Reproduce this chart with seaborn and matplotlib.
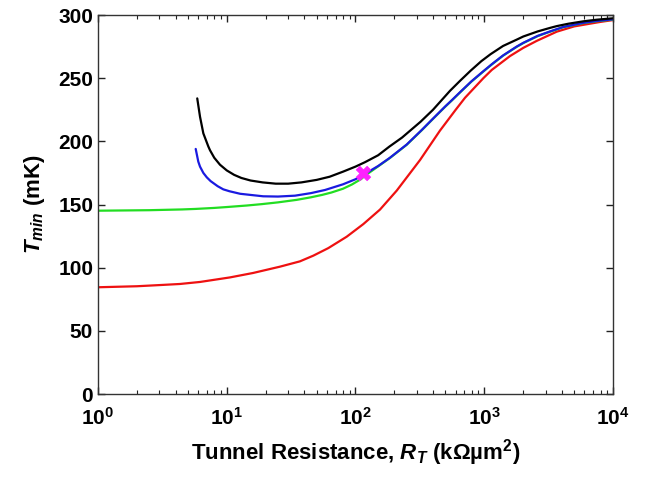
import matplotlib
matplotlib.use("Agg")
import matplotlib.pyplot as plt
import seaborn as sns
import pandas as pd
from matplotlib.ticker import LogLocator, FixedLocator, NullFormatter

# ---- data ----
red_x = [1, 2, 3.1, 4.33, 6.2, 10.6, 16, 25.9, 37, 47, 61.5, 85.4, 115, 155, 209, 317, 453,
         600, 709, 984, 1143, 1585, 2011, 2553, 3655, 5000, 7940, 10000]
red_y = [84.5, 85.3, 86.3, 87.1, 88.7, 92.3, 95.8, 100.8, 105, 109.5, 115.5, 124.5, 134.5, 146,
         161, 185.2, 208.5, 225, 234.5, 250, 256.5, 267.5, 274, 279.5, 286.8, 291, 294.5, 296]

green_x = [1, 2.5, 4.5, 5.7, 8, 10, 14.3, 18.7, 25, 35, 45, 55, 65, 80, 93.6, 110, 118.5, 150,
           185, 250, 327, 400, 496, 559, 650, 795, 984, 1143, 1400, 1786, 2011, 2600, 3243,
           4100, 5878, 7500, 10000]
green_y = [145.1, 145.5, 146.1, 146.5, 147.3, 148, 149.2, 150.3, 151.7, 153.7, 155.7, 157.6,
           159.5, 162.5, 165.8, 170, 172.8, 180.2, 186.8, 197.3, 208.8, 217.8, 227.3, 232.3,
           238.8, 247.3, 255.3, 260.8, 267.8, 274.8, 277.8, 283.3, 286.8, 290.3, 293.6, 295.1,
           296.4]

blue_x = [5.74, 6.01, 6.2, 6.58, 7.0, 7.5, 8.5, 9.4, 10.5, 12.7, 15.6, 19.2, 25, 33.9, 45, 58,
          80, 100, 118.5, 150, 185, 250, 327, 400, 496, 559, 650, 795, 984, 1143, 1400, 1786,
          2011, 2600, 3243, 4100, 5878, 7500, 10000]
blue_y = [194, 184, 180, 175, 171.5, 168.5, 164.5, 162, 160.5, 158.5, 157.5, 156.5, 156.3, 157,
          159, 161.5, 166, 170, 174.3, 180.5, 187, 197.5, 209, 218, 227.5, 232.5, 239, 247.5,
          255.5, 261, 268, 275, 278, 283.5, 287, 290.5, 293.8, 295.3, 296.6]

black_x = [5.9, 6.2, 6.58, 7.19, 7.41, 8.0, 8.86, 10, 11.4, 13, 15.3, 19, 24, 30, 38, 50, 63, 80,
           100, 118.5, 150, 183, 230, 320, 400, 480, 542, 650, 785, 950, 1120, 1400, 1786, 2011,
           2600, 3243, 3655, 4500, 5878, 7500, 10000]
black_y = [234, 219.5, 206.3, 196, 193, 187, 181.5, 177, 173.5, 171, 169, 167.5, 166.5, 166.5,
           167.5, 169.5, 172, 176, 180, 183.5, 189, 195.8, 203, 215.5, 225, 234, 240, 248, 256,
           263.5, 269, 275.5, 280.5, 283, 287, 289.8, 291.2, 293.1, 295, 296.3, 297.4]

marker_x = [115]
marker_y = [174.6]

x_ticks = [1, 10, 100, 1000, 10000]
x_tick_labels = [r"$\mathbf{10^{0}}$", r"$\mathbf{10^{1}}$", r"$\mathbf{10^{2}}$",
                 r"$\mathbf{10^{3}}$", r"$\mathbf{10^{4}}$"]
y_ticks = [0, 50, 100, 150, 200, 250, 300]

# ---- style ----
sns.set_style("ticks")
plt.rcParams["font.family"] = ["Liberation Sans", "DejaVu Sans"]
plt.rcParams["font.weight"] = "bold"
plt.rcParams["text.color"] = "black"
plt.rcParams["axes.labelcolor"] = "black"
plt.rcParams["xtick.color"] = "black"
plt.rcParams["ytick.color"] = "black"
plt.rcParams["mathtext.fontset"] = "custom"
plt.rcParams["mathtext.rm"] = "Liberation Sans:bold"
plt.rcParams["mathtext.bf"] = "Liberation Sans:bold"
plt.rcParams["mathtext.it"] = "Liberation Sans:italic:bold"

fig = plt.figure(figsize=(6.59, 4.78), dpi=100)
ax = fig.add_axes([0.1487, 0.1757, 0.7815, 0.7929])
ax.set_xscale("log")

series = [
    (red_x, red_y, "#ee1111"),
    (green_x, green_y, "#22dd22"),
    (blue_x, blue_y, "#1a1ae0"),
    (black_x, black_y, "#000000"),
]
for xs, ys, col in series:
    df = pd.DataFrame({"x": xs, "y": ys})
    sns.lineplot(data=df, x="x", y="y", ax=ax, color=col, linewidth=1.6,
                 estimator=None, sort=False)

sns.scatterplot(x=marker_x, y=marker_y, ax=ax, marker="X", s=110,
                color="#ff22ff", edgecolor="#ff22ff", linewidth=0.5, zorder=5)

ax.set_xlim(1, 10000)
ax.set_ylim(0, 300)
ax.xaxis.set_major_locator(FixedLocator(x_ticks))
ax.set_xticklabels(x_tick_labels)
ax.xaxis.set_minor_locator(LogLocator(base=10, subs=range(2, 10), numticks=20))
ax.xaxis.set_minor_formatter(NullFormatter())
ax.set_yticks(y_ticks)
ax.set_yticklabels([str(v) for v in y_ticks])

ax.tick_params(axis="both", which="both", direction="in", top=True, right=True,
               labelsize=15, colors="#222222", labelcolor="black")
ax.tick_params(axis="both", which="major", length=5, width=1)
ax.tick_params(axis="both", which="minor", length=3, width=0.8)
ax.tick_params(axis="x", which="major", pad=9)
for lab in ax.get_yticklabels():
    lab.set_fontweight("bold")

for sp in ax.spines.values():
    sp.set_color("#333333")
    sp.set_linewidth(1.0)

ax.set_xlabel(r"Tunnel Resistance, $\mathit{R_T}$ (kΩµm$^{2}$)", fontsize=16,
              fontweight="bold", labelpad=6, color="black")
ax.set_ylabel(r"$\mathit{T_{min}}$ (mK)", fontsize=16, fontweight="bold", labelpad=8,
              color="black")

fig.savefig("out.png", dpi=100)
